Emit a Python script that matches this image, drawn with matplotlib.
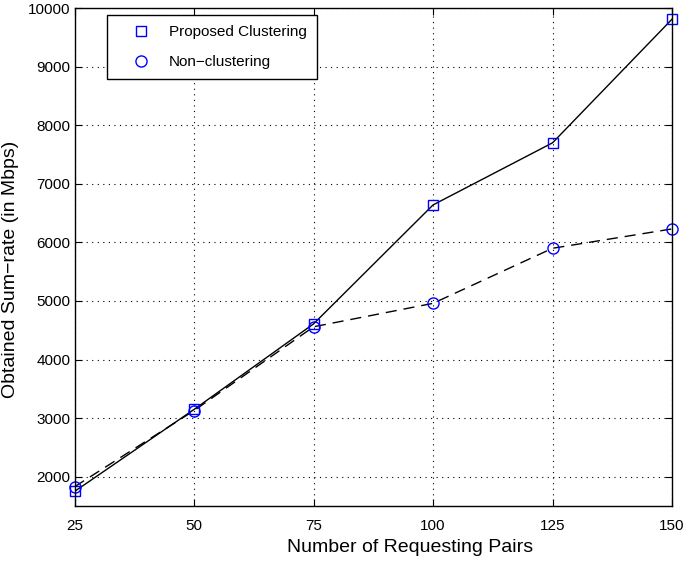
import matplotlib
matplotlib.use("Agg")
import matplotlib.pyplot as plt

pairs = [25, 50, 75, 100, 125, 150]
proposed = [1750, 3150, 4610, 6640, 7700, 9810]
non_clustering = [1830, 3130, 4560, 4960, 5900, 6230]
y_ticks = [2000, 3000, 4000, 5000, 6000, 7000, 8000, 9000, 10000]

plt.rcParams["font.family"] = ["Liberation Sans", "DejaVu Sans"]

fig = plt.figure(figsize=(6.85, 5.62), dpi=100)
ax = fig.add_axes([0.109, 0.0996, 0.872, 0.886])

ax.plot(pairs, proposed, color="black", linewidth=1.0, linestyle="-")
ax.plot(pairs, non_clustering, color="black", linewidth=1.0, linestyle=(0, (8, 5)))
ax.plot(pairs, proposed, linestyle="none", marker="s", markersize=7,
        markerfacecolor="none", markeredgecolor="blue", markeredgewidth=1.0,
        label="Proposed Clustering", clip_on=False)
ax.plot(pairs, non_clustering, linestyle="none", marker="o", markersize=8,
        markerfacecolor="none", markeredgecolor="blue", markeredgewidth=1.0,
        label="Non\u2212clustering", clip_on=False)

ax.set_xlim(25, 150)
ax.set_ylim(1500, 10000)
ax.set_xticks(pairs)
ax.set_yticks(y_ticks)
ax.tick_params(direction="in", top=True, right=True, labelsize=11, length=5)
ax.tick_params(axis="x", pad=9)
ax.tick_params(axis="y", pad=3)
ax.grid(True, linestyle=(0, (1, 4)), color="black", linewidth=0.8)
for s in ax.spines.values():
    s.set_linewidth(1.0)

ax.set_xlabel("Number of Requesting Pairs", fontsize=14)
ax.set_ylabel("Obtained Sum\u2212rate (in Mbps)", fontsize=14)
ax.xaxis.set_label_coords(0.561, -0.066)
ax.yaxis.set_label_coords(-0.093, 0.476)

leg = ax.legend(loc="upper left", bbox_to_anchor=(0.054, 0.986), borderaxespad=0,
                fontsize=11, fancybox=False, framealpha=1, edgecolor="black",
                borderpad=0.65, labelspacing=1.05, handlelength=3.2,
                handletextpad=0.2)
leg.get_frame().set_linewidth(1.0)

fig.savefig("out.png", dpi=100)
plt.close()
